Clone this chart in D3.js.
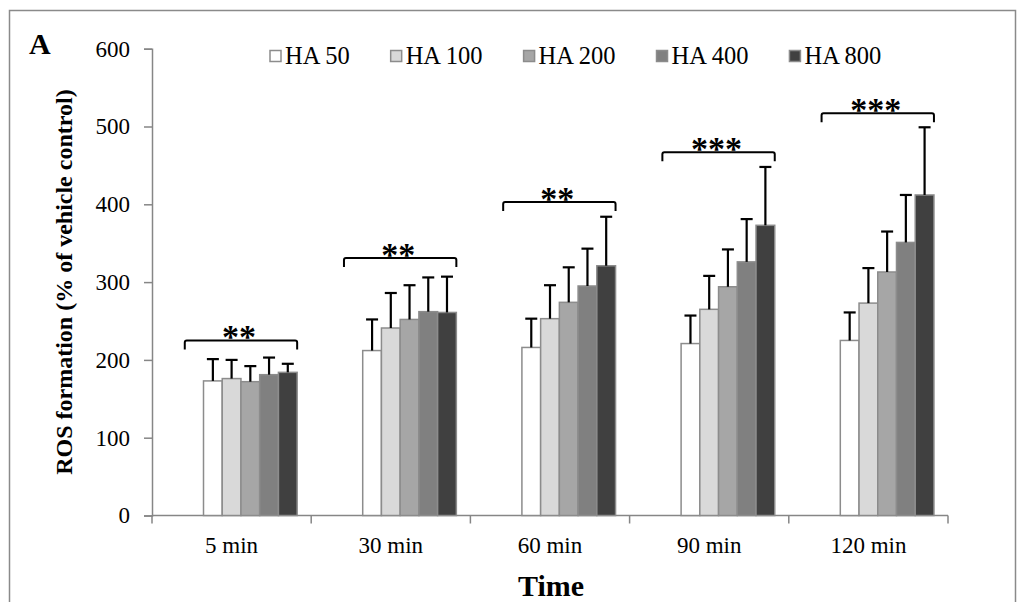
<!DOCTYPE html>
<html>
<head>
<meta charset="utf-8">
<script src="https://cdn.jsdelivr.net/npm/d3@7"></script>
<style>
  body { margin: 0; background: #fff; }
  svg, svg text { font-family: "Liberation Serif", "Times New Roman", serif; }
  svg { display: block; }
</style>
</head>
<body>
<svg id="chart"></svg>
<script>
const width = 1020;
const height = 602;

// Data
const categories = ["5 min", "30 min", "60 min", "90 min", "120 min"];
const series = ["HA 50", "HA 100", "HA 200", "HA 400", "HA 800"];
const ha50 = [173, 212, 216, 221, 225];
const ha100 = [176, 241, 253, 265, 273];
const ha200 = [172, 252, 274, 294, 313];
const ha400 = [181, 262, 295, 326, 351];
const ha800 = [184, 261, 321, 373, 412];
const ha50Err = [28, 40, 37, 36, 36];
const ha100Err = [24, 45, 43, 43, 45];
const ha200Err = [20, 44, 45, 48, 52];
const ha400Err = [22, 44, 48, 55, 61];
const ha800Err = [11, 46, 63, 75, 87];
const bracketLevels = [225, 331, 403, 467, 517];
const stars = ["**", "**", "**", "***", "***"];
const yTicks = [0, 100, 200, 300, 400, 500, 600];
const colors = ["#ffffff", "#d9d9d9", "#a6a6a6", "#808080", "#404040"];

const means = [ha50, ha100, ha200, ha400, ha800];
const errs = [ha50Err, ha100Err, ha200Err, ha400Err, ha800Err];

const rows = [];
categories.forEach((c, i) => {
  series.forEach((s, j) => {
    rows.push({ cat: c, ser: s, idx: j, v: means[j][i], e: errs[j][i] });
  });
});

const svg = d3.select("#chart").attr("width", width).attr("height", height);

// outer frame
svg.append("rect")
   .attr("x", 9.5).attr("y", 10.5)
   .attr("width", 1006).attr("height", 620)
   .attr("fill", "none").attr("stroke", "#8a8a8a").attr("stroke-width", 1.5);

const x0 = d3.scaleBand().domain(categories).range([152, 948]);
// two empty slots in front of the HA series (as in the original spreadsheet)
const x1 = d3.scaleBand()
             .domain(["_a", "_b"].concat(series))
             .range([0, x0.bandwidth()])
             .paddingOuter(0.75);
const y = d3.scaleLinear().domain([0, 600]).range([515.5, 48.7]);

// y axis
const yAxis = d3.axisLeft(y).tickValues(yTicks).tickSize(8).tickPadding(14);
const gy = svg.append("g").attr("transform", "translate(152,0)").call(yAxis);
gy.attr("font-family", null);
gy.selectAll("path, line").attr("stroke", "#868686").attr("stroke-width", 1.5);
gy.selectAll("text").attr("font-size", 23).attr("fill", "#000");

// x axis: line, ticks at band boundaries, labels in the middle
const xBase = y(0);
svg.append("line")
   .attr("x1", 152).attr("x2", 948)
   .attr("y1", xBase).attr("y2", xBase)
   .attr("stroke", "#868686").attr("stroke-width", 1.5);
const bounds = categories.map(c => x0(c)).concat([x0.range()[1]]);
svg.selectAll(".xtick").data(bounds).enter().append("line")
   .attr("class", "xtick")
   .attr("x1", d => d).attr("x2", d => d)
   .attr("y1", xBase).attr("y2", xBase + 8)
   .attr("stroke", "#868686").attr("stroke-width", 1.5);
svg.selectAll(".xlabel").data(categories).enter().append("text")
   .attr("class", "xlabel")
   .attr("x", d => x0(d) + x0.bandwidth() / 2)
   .attr("y", 553)
   .attr("text-anchor", "middle")
   .attr("font-size", 23)
   .text(d => d);

// bars
svg.selectAll(".bar").data(rows).enter().append("rect")
   .attr("class", "bar")
   .attr("x", d => x0(d.cat) + x1(d.ser))
   .attr("y", d => y(d.v))
   .attr("width", x1.bandwidth())
   .attr("height", d => y(0) - y(d.v))
   .attr("fill", d => colors[d.idx])
   .attr("stroke", "#8c8c8c")
   .attr("stroke-width", 1.5);

// error bars (upper only)
const capW = 12;
const eb = svg.selectAll(".err").data(rows).enter().append("g").attr("class", "err");
eb.append("line")
  .attr("x1", d => x0(d.cat) + x1(d.ser) + x1.bandwidth() / 2)
  .attr("x2", d => x0(d.cat) + x1(d.ser) + x1.bandwidth() / 2)
  .attr("y1", d => y(d.v))
  .attr("y2", d => y(d.v + d.e))
  .attr("stroke", "#000").attr("stroke-width", 2.2);
eb.append("line")
  .attr("x1", d => x0(d.cat) + x1(d.ser) + x1.bandwidth() / 2 - capW / 2)
  .attr("x2", d => x0(d.cat) + x1(d.ser) + x1.bandwidth() / 2 + capW / 2)
  .attr("y1", d => y(d.v + d.e))
  .attr("y2", d => y(d.v + d.e))
  .attr("stroke", "#000").attr("stroke-width", 2.2);

// significance brackets
categories.forEach((c, i) => {
  const xa = x0(c) + x1("_b");
  const xb = x0(c) + x1("HA 800") + x1.bandwidth();
  const yy = y(bracketLevels[i]);
  svg.append("path")
     .attr("d", `M${xa},${yy + 9} V${yy + 2} Q${xa},${yy} ${xa + 2},${yy} H${xb - 2} Q${xb},${yy} ${xb},${yy + 2} V${yy + 9}`)
     .attr("fill", "none").attr("stroke", "#000").attr("stroke-width", 2);
  svg.append("text")
     .attr("x", (xa + xb) / 2 - 2)
     .attr("y", yy + 8)
     .attr("text-anchor", "middle")
     .attr("font-size", 34)
     .attr("font-weight", "bold")
     .text(stars[i]);
});

// legend
const legend = svg.append("g");
let lx = 270;
series.forEach((s, j) => {
  legend.append("rect")
        .attr("x", lx).attr("y", 50.5)
        .attr("width", 11).attr("height", 11)
        .attr("fill", colors[j]).attr("stroke", "#8c8c8c").attr("stroke-width", 1.5);
  const t = legend.append("text")
        .attr("x", lx + 15).attr("y", 64)
        .attr("font-size", 24.5)
        .text(s);
  lx += 15 + t.node().getComputedTextLength() + 41;
});

// panel letter
svg.append("text")
   .attr("x", 29).attr("y", 54)
   .attr("font-size", 30).attr("font-weight", "bold")
   .text("A");

// axis titles
svg.append("text")
   .attr("transform", `translate(72, ${(y(0) + y(600)) / 2}) rotate(-90)`)
   .attr("text-anchor", "middle")
   .attr("font-size", 24).attr("font-weight", "bold")
   .text("ROS formation (% of vehicle control)");
svg.append("text")
   .attr("x", 551).attr("y", 596)
   .attr("text-anchor", "middle")
   .attr("font-size", 30).attr("font-weight", "bold")
   .text("Time");
</script>
</body>
</html>
